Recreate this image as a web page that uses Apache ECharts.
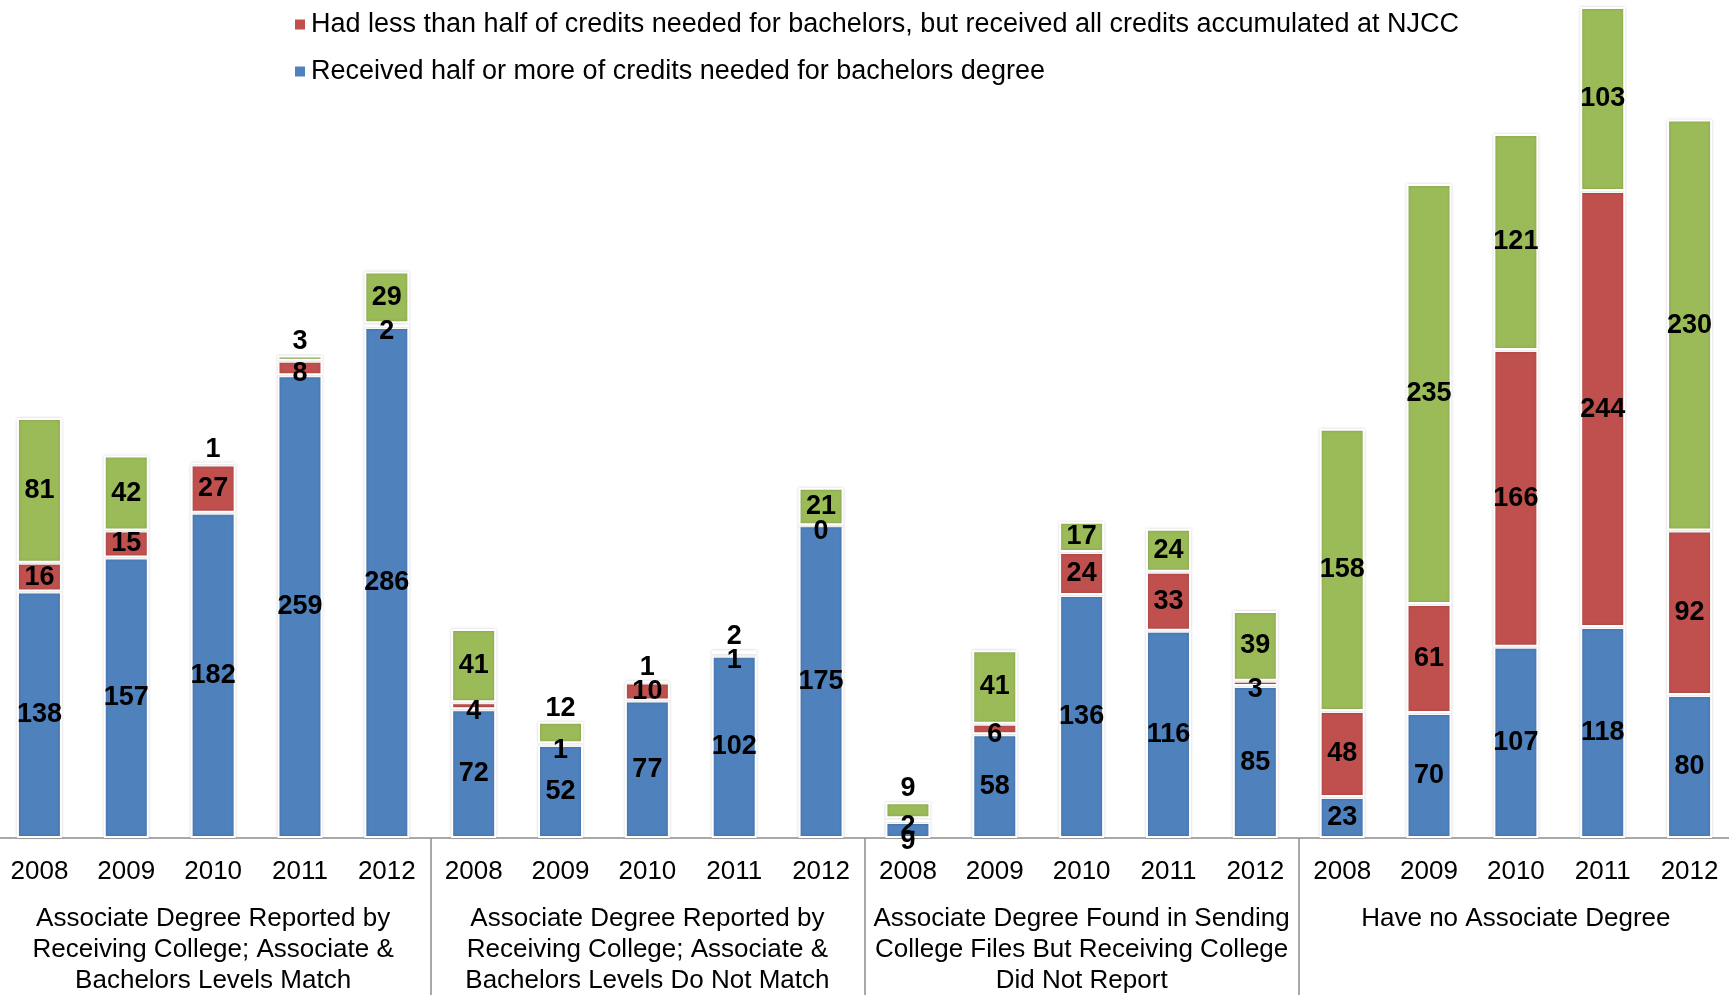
<!DOCTYPE html>
<html>
<head>
<meta charset="utf-8">
<script src="https://cdn.jsdelivr.net/npm/echarts@6/dist/echarts.min.js"></script>
<style>
  html, body { margin: 0; padding: 0; background: #fff; }
  #chart { width: 1729px; height: 995px; }
</style>
</head>
<body>
<div id="chart"></div>
<script>
// 分组与年份
const groups = [
    'Associate Degree Reported by\nReceiving College; Associate &\nBachelors Levels Match',
    'Associate Degree Reported by\nReceiving College; Associate &\nBachelors Levels Do Not Match',
    'Associate Degree Found in Sending\nCollege Files But Receiving College\nDid Not Report',
    'Have no Associate Degree'
];
const years = ['2008', '2009', '2010', '2011', '2012'];

// 各系列数值（按分组依次排列，每组 5 年）
const halfOrMore = [138, 157, 182, 259, 286, 72, 52, 77, 102, 175, 9, 58, 136, 116, 85, 23, 70, 107, 118, 80];
const lessThanHalfAll = [16, 15, 27, 8, 2, 4, 1, 10, 1, 0, 2, 6, 24, 33, 3, 48, 61, 166, 244, 92];
const lessThanHalfOther = [81, 42, 1, 3, 29, 41, 12, 1, 2, 21, 9, 41, 17, 24, 39, 158, 235, 121, 103, 230];

const nameBlue = 'Received half or more of credits needed for bachelors degree';
const nameRed = 'Had less than half of credits needed for bachelors, but received all credits accumulated at NJCC';
const nameGreen = 'Had less than half of credits needed for bachelors';

const categories = [];
groups.forEach((g, gi) => {
    years.forEach(y => categories.push(gi + '|' + y));
});

const font = "'Liberation Sans', Arial, sans-serif";

const labelBase = {
    show: true,
    position: 'inside',
    color: '#000',
    fontWeight: 'bold',
    fontSize: 27,
    fontFamily: font
};

// 小数值标签稍作挪动，避免重叠
function buildData(values, kind) {
    return values.map(v => {
        if (kind === 'green' && v < 15) {
            return { value: v, label: { position: 'top', distance: 0 } };
        }
        if (kind === 'red' && v < 10) {
            return { value: v, label: { offset: [0, 6] } };
        }
        if (kind === 'blue' && v < 15) {
            return { value: v, label: { offset: [0, 12] } };
        }
        return v;
    });
}

function makeSeries(name, values, color, kind) {
    return {
        name: name,
        type: 'bar',
        stack: 'total',
        barWidth: 45,
        data: buildData(values, kind),
        itemStyle: {
            color: color,
            borderColor: '#fff',
            borderWidth: 2,
            shadowColor: 'rgba(0,0,0,0.18)',
            shadowBlur: 3
        },
        label: labelBase
    };
}

const chart = echarts.init(document.getElementById('chart'));
chart.setOption({
    animation: false,
    textStyle: { fontFamily: font },
    legend: {
        data: [nameRed, nameBlue],
        orient: 'vertical',
        left: 288,
        top: 5,
        itemWidth: 12,
        itemHeight: 12,
        itemGap: 18,
        icon: 'rect',
        textStyle: { fontSize: 27, color: '#000', fontFamily: font, lineHeight: 29 }
    },
    grid: { left: -4, right: -4, top: 7, bottom: 157, outerBoundsMode: 'none', containLabel: false },
    xAxis: [
        {
            type: 'category',
            data: categories,
            axisLine: { show: true, lineStyle: { color: '#8c8c8c', width: 1.5 } },
            axisTick: { show: false },
            axisLabel: {
                interval: 0,
                margin: 21,
                fontSize: 26,
                color: '#000',
                fontFamily: font,
                formatter: v => v.split('|')[1]
            }
        },
        {
            type: 'category',
            data: groups,
            position: 'bottom',
            axisLine: { show: false },
            axisTick: { show: true, interval: 0, length: 160, lineStyle: { color: '#8c8c8c', width: 1.5 } },
            axisLabel: {
                interval: 0,
                margin: 65,
                fontSize: 26,
                lineHeight: 31,
                color: '#000',
                fontFamily: font,
                align: 'center'
            }
        }
    ],
    yAxis: {
        type: 'value',
        min: 0,
        max: 465,
        show: false,
        splitLine: { show: false }
    },
    series: [
        makeSeries(nameBlue, halfOrMore, '#4F81BD', 'blue'),
        makeSeries(nameRed, lessThanHalfAll, '#C0504D', 'red'),
        makeSeries(nameGreen, lessThanHalfOther, '#9BBB59', 'green')
    ]
});
</script>
</body>
</html>
